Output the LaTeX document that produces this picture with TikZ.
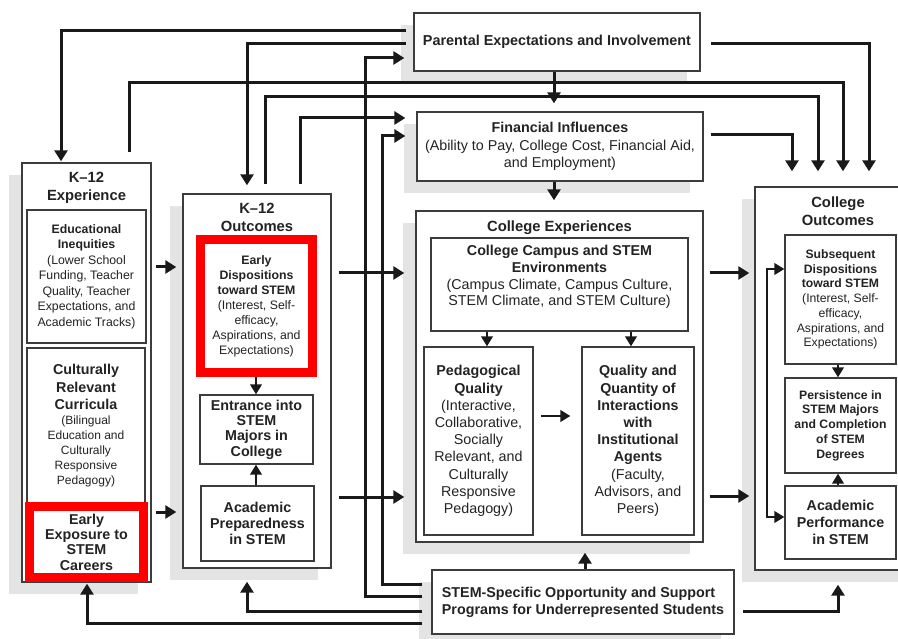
\documentclass[tikz,border=0pt]{standalone}
\usepackage{fontspec}
\setmainfont{Liberation Sans}
\usetikzlibrary{arrows.meta,shadows}
\definecolor{shade}{RGB}{228,228,228}
\definecolor{boxc}{RGB}{60,60,60}
\definecolor{ink}{RGB}{25,25,25}
\definecolor{txt}{RGB}{35,35,35}
\definecolor{redc}{RGB}{255,0,0}
\newcommand{\bigB}[1]{{\fontsize{14.3}{15}\selectfont\bfseries #1}}
\begin{document}
\begin{tikzpicture}[x=1pt,y=-1pt,
  shd/.style={drop shadow={shadow xshift=-13pt,shadow yshift=-12pt,fill=shade,opacity=1}},
  cont/.style={draw=boxc, line width=1.4pt, fill=white, inner sep=0pt},
  box/.style={draw=boxc, line width=1.3pt, fill=white, inner sep=0pt, align=center, text=txt},
  redbox/.style={draw=redc, line width=9pt, fill=white, inner sep=0pt, align=center, text=txt},
  ttl/.style={inner sep=0pt, align=center, text=txt, font={\fontsize{14.8}{17.5}\selectfont\bfseries}},
  big/.style={font={\fontsize{14.3}{17.2}\selectfont}},
  small/.style={font={\fontsize{12.3}{15}\selectfont}},
  arr/.style={draw=ink, line width=3pt, -{Triangle[length=11pt,width=13pt]}},
  sarr/.style={draw=ink, line width=2.4pt, -{Triangle[length=10pt,width=11.5pt]}},
]
\useasboundingbox (0,0) rectangle (898,639);
\clip (0,0) rectangle (898,639);

% ---------- containers ----------
\node[cont, shd, minimum width=129pt, minimum height=419pt] (k12exp) at (86.5,372.5) {};
\node[cont, shd, minimum width=148pt, minimum height=374pt] (k12out) at (257,381) {};
\node[cont, shd, minimum width=287pt, minimum height=331pt] (collexp) at (559.5,376.5) {};
\node[cont, shd, minimum width=170pt, minimum height=383pt] (collout) at (840,378.5) {};

\node[box, shd, minimum width=286pt, minimum height=58pt, font={\fontsize{14.4}{17}\selectfont\bfseries}] (par) at (557,42) {Parental Expectations and Involvement};
\node[box, shd, minimum width=286pt, minimum height=69pt, font={\fontsize{14.3}{17.5}\selectfont}] (fin) at (560,146.5) {\textbf{Financial Influences}\\(Ability to Pay, College Cost, Financial Aid,\\and Employment)};
\node[box, shd, minimum width=302pt, minimum height=64pt, align=left, font={\fontsize{14.3}{17}\selectfont\bfseries}] (stem) at (583,602) {STEM-Specific Opportunity and Support\\Programs for Underrepresented Students};

% ---------- titles ----------
\node[ttl] (k12expT) at (86.5,188) {K–12\\Experience};
\node[ttl] (k12outT) at (257,217.5) {K–12\\Outcomes};
\node[ttl] (collexpT) at (559.5,228) {College Experiences};
\node[ttl] (colloutT) at (838,211) {College\\Outcomes};

% ---------- K-12 experience ----------
\node[box, small, minimum width=119pt, minimum height=133pt, font={\fontsize{12.3}{15.5}\selectfont}] (ineq) at (86.5,276.5)
  {\textbf{Educational}\\\textbf{Inequities}\\(Lower School\\Funding, Teacher\\Quality, Teacher\\Expectations, and\\Academic Tracks)};
\node[box, small, minimum width=118pt, minimum height=156pt, font={\fontsize{12}{15}\selectfont}] (cult) at (86,426)
  {\bigB{Culturally}\\[2.5pt]\bigB{Relevant}\\[2.5pt]\bigB{Curricula}\\(Bilingual\\Education and\\Culturally\\Responsive\\Pedagogy)};
\node[redbox, minimum width=114pt, minimum height=71pt, font={\fontsize{14.3}{15.3}\selectfont\bfseries}] (expo) at (86.5,542)
  {Early\\Exposure to\\STEM\\Careers};

% ---------- K-12 outcomes ----------
\node[redbox, minimum width=112pt, minimum height=133pt, font={\fontsize{12.3}{15}\selectfont}] (edisp) at (256.5,306)
  {\textbf{Early}\\\textbf{Dispositions}\\\textbf{toward STEM}\\(Interest, Self-\\efficacy,\\Aspirations, and\\Expectations)};
\node[box, minimum width=113pt, minimum height=69pt, font={\fontsize{14.3}{15.3}\selectfont\bfseries}] (entr) at (256.5,429.5)
  {Entrance into\\STEM\\Majors in\\College};
\node[box, minimum width=113pt, minimum height=75pt, font={\fontsize{14.3}{16}\selectfont\bfseries}] (aprep) at (257.5,523.5)
  {Academic\\Preparedness\\in STEM};

% ---------- College experiences ----------
\node[box, minimum width=257pt, minimum height=93pt] (campus) at (559.5,284.5) {};
\node[inner sep=0pt, align=center, text=txt, font={\fontsize{14.3}{16.8}\selectfont}] (campusT) at (559.5,277)
  {\textbf{College Campus and STEM}\\\textbf{Environments}\\(Campus Climate, Campus Culture,\\STEM Climate, and STEM Culture)};
\node[box, big, minimum width=109pt, minimum height=188pt] (ped) at (478.5,441)
  {\textbf{Pedagogical}\\\textbf{Quality}\\(Interactive,\\Collaborative,\\Socially\\Relevant, and\\Culturally\\Responsive\\Pedagogy)};
\node[box, big, minimum width=112pt, minimum height=188pt] (qual) at (638,441)
  {\textbf{Quality and}\\\textbf{Quantity of}\\\textbf{Interactions}\\\textbf{with}\\\textbf{Institutional}\\\textbf{Agents}\\(Faculty,\\Advisors, and\\Peers)};

% ---------- College outcomes ----------
\node[box, minimum width=111pt, minimum height=129pt, font={\fontsize{12.2}{14.7}\selectfont}] (subs) at (840.5,299.5)
  {\textbf{Subsequent}\\\textbf{Dispositions}\\\textbf{toward STEM}\\(Interest, Self-\\efficacy,\\Aspirations, and\\Expectations)};
\node[box, minimum width=111pt, minimum height=95pt, font={\fontsize{12.2}{14.75}\selectfont\bfseries}] (pers) at (840.5,425.5)
  {Persistence in\\STEM Majors\\and Completion\\of STEM\\Degrees};
\node[box, minimum width=111pt, minimum height=73pt, font={\fontsize{14.3}{17}\selectfont\bfseries}] (aperf) at (840.5,522.5)
  {Academic\\Performance\\in STEM};

% ---------- connectors ----------
\draw[arr, shorten <=7pt, shorten >=1pt] (par.west |- 0,31) -| (k12exp.north -| 61,0);
\draw[arr, shorten <=7pt, shorten >=8pt] (par.west |- 0,44) -| (k12out.north -| 247,0);
\draw[arr, shorten <=9pt, shorten >=9pt] (stem.west |- 0,596) -| (365,58) -- (par.west |- 0,58);
\draw[arr, shorten <=10pt, shorten >=15pt] (k12exp.north -| 129,0) |- (843,83) -- (collout.north -| 843,0);
\draw[arr, shorten <=9pt, shorten >=15pt] (k12out.north -| 265,0) |- (818,97) -- (collout.north -| 818,0);
\draw[arr, shorten <=9pt, shorten >=11pt] (k12out.north -| 300,0) |- (fin.west |- 0,118);
\draw[arr, shorten <=9pt, shorten >=11pt] (stem.west |- 0,584) -| (382,136) -- (fin.west |- 0,136);
\draw[arr, shorten >=8pt] (par.south -| 554,0) -- (fin.north -| 554,0);
\draw[arr, shorten <=10pt, shorten >=15pt] (par.east |- 0,44) -| (collout.north -| 869,0);
\draw[arr, shorten <=7pt, shorten >=15pt] (fin.east |- 0,135) -| (collout.north -| 792,0);
\draw[arr, shorten >=10pt] (fin.south -| 554,0) -- (collexp.north -| 554,0);

\draw[arr, shorten <=4pt, shorten >=6pt] (k12exp.east |- 0,267) -- (k12out.west |- 0,267);
\draw[arr, shorten <=4pt, shorten >=6pt] (k12exp.east |- 0,512) -- (k12out.west |- 0,512);
\draw[arr, shorten <=7pt, shorten >=11pt] (k12out.east |- 0,273) -- (collexp.west |- 0,273);
\draw[arr, shorten <=7pt, shorten >=11pt] (k12out.east |- 0,497) -- (collexp.west |- 0,497);
\draw[arr, shorten <=6pt, shorten >=5pt] (collexp.east |- 0,273) -- (collout.west |- 0,273);
\draw[arr, shorten <=6pt, shorten >=5pt] (collexp.east |- 0,496) -- (collout.west |- 0,496);

\draw[arr, shorten <=9pt, shorten >=13pt] (stem.west |- 0,611) -| (k12out.south -| 247,0);
\draw[arr, shorten <=9pt, shorten >=1pt] (stem.west |- 0,623) -| (k12exp.south -| 87,0);
\draw[arr, shorten >=10pt] (stem.north -| 585,0) -- (collexp.south -| 585,0);
\draw[arr, shorten <=8pt, shorten >=14pt] (stem.east |- 0,611) -| (collout.south -| 838,0);

\draw[sarr] (edisp.south -| 256,0) -- (entr.north -| 256,0);
\draw[sarr] (aprep.north -| 256,0) -- (entr.south -| 256,0);
\draw[sarr] (campus.south -| 487,0) -- (ped.north -| 487,0);
\draw[sarr] (campus.south -| 631,0) -- (qual.north -| 631,0);
\draw[sarr, shorten <=7pt, shorten >=11pt] (ped.east |- 0,416) -- (qual.west |- 0,416);
\draw[sarr] (subs.south -| 838,0) -- (pers.north -| 838,0);
\draw[sarr] (aperf.north -| 838,0) -- (pers.south -| 838,0);
\draw[draw=ink, line width=2.2pt, {Triangle[length=10pt,width=11.5pt]}-{Triangle[length=10pt,width=11.5pt]}] (subs.west |- 0,269) -| (767,517) -- (aperf.west |- 0,517);
\end{tikzpicture}
\end{document}
